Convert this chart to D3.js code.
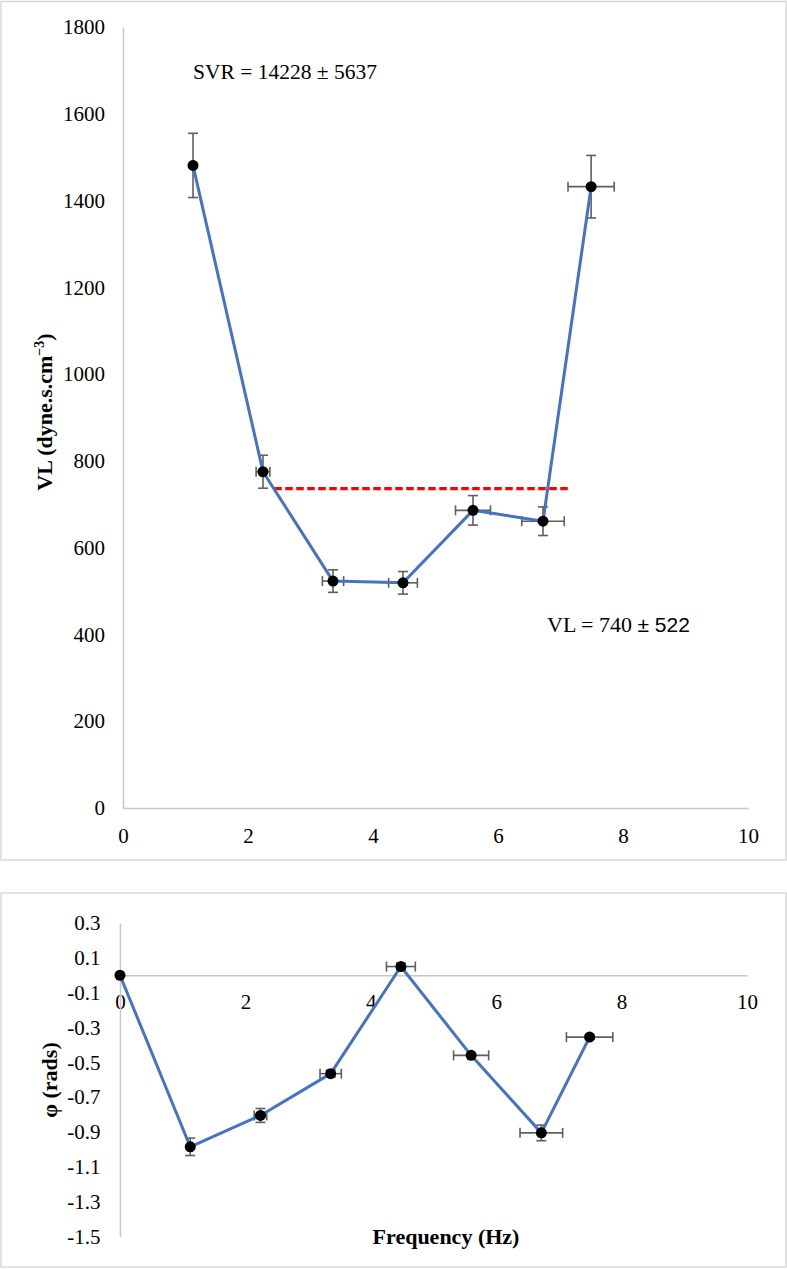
<!DOCTYPE html>
<html>
<head>
<meta charset="utf-8">
<script src="https://cdn.jsdelivr.net/npm/d3@7"></script>
<style>
  html, body { margin: 0; padding: 0; background: #fff; }
  svg { display: block; }
  text { font-family: "Liberation Serif", "Times New Roman", serif; fill: #000; }
</style>
</head>
<body>
<svg id="chart" width="787" height="1269"></svg>
<script>
// ---------- data ----------
// Panel 1: VL vs frequency
const freq1 = [1.12, 2.24, 3.36, 4.48, 5.60, 6.72, 7.49];
const freqErr1 = [0.02, 0.11, 0.17, 0.23, 0.28, 0.34, 0.37];
const vl = [1481, 775, 523, 519, 686, 661, 1432];
const vlErr = [74, 38, 26, 26, 34, 33, 72];
const meanLineX = [2.42, 7.15];
const meanVL = 736;
const vlTicks = [0, 200, 400, 600, 800, 1000, 1200, 1400, 1600, 1800];
const freqTicks = [0, 2, 4, 6, 8, 10];

// Panel 2: phase vs frequency
const freq2 = [0, 1.12, 2.24, 3.36, 4.48, 5.60, 6.72, 7.49];
const freqErr2 = [0, 0.03, 0.10, 0.17, 0.23, 0.28, 0.34, 0.37];
const phi = [0, -0.985, -0.805, -0.565, 0.05, -0.46, -0.905, -0.355];
const phiErr = [0, 0.05, 0.04, 0.02, 0.02, 0.01, 0.045, 0.01];
const phiTicks = [0.3, 0.1, -0.1, -0.3, -0.5, -0.7, -0.9, -1.1, -1.3, -1.5];

// ---------- drawing ----------
const svg = d3.select("#chart");
const GRID = "#d9d9d9", AXIS = "#c8c8c8", ERR = "#5f5f5f", BLUE = "#4472c4";

// frames
svg.append("rect").attr("x", 1).attr("y", 1.5).attr("width", 785).attr("height", 858.5)
  .attr("fill", "#fff").attr("stroke", GRID).attr("stroke-width", 1.5);
svg.append("rect").attr("x", 1).attr("y", 893).attr("width", 785).attr("height", 374)
  .attr("fill", "#fff").attr("stroke", GRID).attr("stroke-width", 1.5);

function styleAxis(g) {
  g.select(".domain").attr("stroke", AXIS).attr("stroke-width", 1.5);
  g.selectAll("text").style("font-family", "'Liberation Serif', serif").style("font-size", "21px").attr("fill", "#000");
}

function drawPanel(opts) {
  const { x, y, xs, ys, xe, ye, xAxisY, yAxisX } = opts;
  const g = svg.append("g");
  // axes
  const ax = g.append("g").attr("transform", `translate(0,${xAxisY})`)
    .call(d3.axisBottom(x).tickValues(freqTicks).tickSize(0).tickPadding(opts.xPad).tickFormat(d3.format("d")));
  styleAxis(ax);
  const ay = g.append("g").attr("transform", `translate(${yAxisX},0)`)
    .call(d3.axisLeft(y).tickValues(opts.yTicks).tickSize(0).tickPadding(opts.yPad).tickFormat(opts.yFmt));
  styleAxis(ay);

  if (opts.extra) opts.extra(g);

  const pts = xs.map((v, i) => ({ x: v, y: ys[i], ex: xe[i], ey: ye[i] }));
  const cap = 5;
  const eg = g.append("g").attr("stroke", ERR).attr("stroke-width", 1.6).attr("fill", "none");
  pts.forEach(p => {
    if (p.ey > 0) {
      eg.append("line").attr("x1", x(p.x)).attr("x2", x(p.x)).attr("y1", y(p.y - p.ey)).attr("y2", y(p.y + p.ey));
      [p.y - p.ey, p.y + p.ey].forEach(v => eg.append("line")
        .attr("x1", x(p.x) - cap).attr("x2", x(p.x) + cap).attr("y1", y(v)).attr("y2", y(v)));
    }
    if (p.ex > 0) {
      eg.append("line").attr("x1", x(p.x - p.ex)).attr("x2", x(p.x + p.ex)).attr("y1", y(p.y)).attr("y2", y(p.y));
      [p.x - p.ex, p.x + p.ex].forEach(v => eg.append("line")
        .attr("x1", x(v)).attr("x2", x(v)).attr("y1", y(p.y) - cap).attr("y2", y(p.y) + cap));
    }
  });

  g.append("path").datum(pts)
    .attr("d", d3.line().x(d => x(d.x)).y(d => y(d.y)))
    .attr("fill", "none").attr("stroke", BLUE).attr("stroke-width", 3).attr("stroke-linejoin", "round");

  g.selectAll("circle.m").data(pts).join("circle").attr("class", "m")
    .attr("cx", d => x(d.x)).attr("cy", d => y(d.y)).attr("r", 5.5).attr("fill", "#000");
  return g;
}

// Panel 1
const x1 = d3.scaleLinear().domain([0, 10]).range([123, 748]);
const y1 = d3.scaleLinear().domain([0, 1800]).range([808, 27]);
drawPanel({
  x: x1, y: y1, xs: freq1, ys: vl, xe: freqErr1, ye: vlErr,
  xAxisY: y1(0), yAxisX: x1(0), yTicks: vlTicks, yFmt: d3.format("d"), xPad: 20, yPad: 18,
  extra: g => {
    g.append("line")
      .attr("x1", x1(meanLineX[0])).attr("x2", x1(meanLineX[1]))
      .attr("y1", y1(meanVL)).attr("y2", y1(meanVL))
      .attr("stroke", "#ff0000").attr("stroke-width", 3.3).attr("stroke-dasharray", "7.5,3.5");
  }
});

// annotations panel 1
svg.append("text").attr("x", 193).attr("y", 79).style("font-size", "21.5px")
  .text("SVR = 14228 ± 5637");
const vlt = svg.append("text").attr("x", 547).attr("y", 632).style("font-size", "22px");
vlt.append("tspan").text("VL = 740 ");
vlt.append("tspan").style("font-family", "'Liberation Sans', Arial, sans-serif").style("font-size", "21px").text("± 522");

const t1 = svg.append("text").attr("transform", "translate(52,412) rotate(-90)")
  .attr("text-anchor", "middle").style("font-size", "22px").style("font-weight", "bold");
t1.append("tspan").text("VL (dyne.s.cm");
t1.append("tspan").attr("dy", -8).style("font-size", "14px").text("−3");
t1.append("tspan").attr("dy", 8).text(")");

// Panel 2
const x2 = d3.scaleLinear().domain([0, 10]).range([120, 747]);
const y2 = d3.scaleLinear().domain([-1.5, 0.3]).range([1236.5, 923]);
drawPanel({
  x: x2, y: y2, xs: freq2, ys: phi, xe: freqErr2, ye: phiErr,
  xAxisY: y2(0), yAxisX: x2(0), yTicks: phiTicks, yFmt: d => d.toFixed(1), xPad: 19, yPad: 19.5
});

svg.append("text").attr("transform", "translate(57,1080) rotate(-90)")
  .attr("text-anchor", "middle").style("font-size", "22px").style("font-weight", "bold")
  .text("φ (rads)");
svg.append("text").attr("x", 446).attr("y", 1244).attr("text-anchor", "middle")
  .style("font-size", "22px").style("font-weight", "bold").text("Frequency (Hz)");
</script>
</body>
</html>
